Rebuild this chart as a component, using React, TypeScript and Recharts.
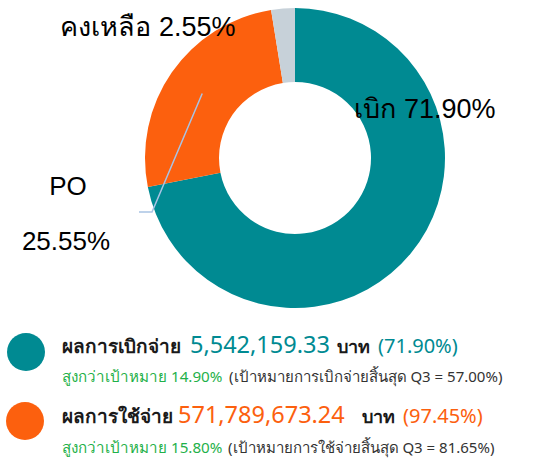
import { PieChart, Pie, Cell } from "recharts";

const sliceNames = ["เบิก", "PO", "คงเหลือ"];
const sliceValues = [71.9, 25.55, 2.55];
const sliceColors = ["#008a92", "#fc600e", "#c7d1d9"];

const legendTitles = ["ผลการเบิกจ่าย", "ผลการใช้จ่าย"];
const legendAmounts = ["5,542,159.33", "571,789,673.24"];
const legendPercents = ["71.90%", "97.45%"];
const legendColors = ["#008a92", "#fc600e"];
const overTarget = ["14.90%", "15.80%"];
const targetNotes = [
  "(เป้าหมายการเบิกจ่ายสิ้นสุด Q3 = 57.00%)",
  "(เป้าหมายการใช้จ่ายสิ้นสุด Q3 = 81.65%)",
];

const data = sliceNames.map((name, i) => ({ name, value: sliceValues[i] }));

// legend layout (x of each piece, baselines)
const legendRows = [
  { cy: 352, cx: 26, base: 353, sub: 382, amountX: 190, unitX: 337, pctX: 378, noteX: 229 },
  { cy: 421, cx: 25, base: 423, sub: 453, amountX: 178, unitX: 362, pctX: 403, noteX: 228 },
];

const RAD = Math.PI / 180;
const labelFont = "'Liberation Sans', Arial, sans-serif";

const renderLabel = (props: any) => {
  const { cx, cy, midAngle, innerRadius, outerRadius, index, value, name } = props;
  const pct = `${Number(value).toFixed(2)}%`;
  if (index === 0) {
    return (
      <text x={cx + 130} y={cy - 40} textAnchor="middle" fontSize={27} fontFamily={labelFont} fill="#000">
        {`${name} ${pct}`}
      </text>
    );
  }
  if (index === 1) {
    const r = (innerRadius + outerRadius) / 2;
    const sx = cx + r * Math.cos(-midAngle * RAD);
    const sy = cy + r * Math.sin(-midAngle * RAD);
    const ex = cx - 143;
    const ey = cy + 54;
    return (
      <g>
        <polyline
          points={`${sx},${sy} ${ex},${ey} ${ex - 13},${ey}`}
          fill="none"
          stroke="#a9c3e4"
          strokeWidth={1.5}
        />
        <text x={cx - 227} y={cy + 37} textAnchor="middle" fontSize={26} fontFamily={labelFont} fill="#000">
          {name}
        </text>
        <text x={cx - 229} y={cy + 92} textAnchor="middle" fontSize={26} fontFamily={labelFont} fill="#000">
          {pct}
        </text>
      </g>
    );
  }
  return (
    <text x={cx - 147} y={cy - 122} textAnchor="middle" fontSize={27} fontFamily={labelFont} fill="#000">
      {`${name} ${pct}`}
    </text>
  );
};

const legendFont = "'Noto Sans', Tahoma, 'DejaVu Sans', sans-serif";

export default function App() {
  return (
    <div style={{ position: "absolute", left: 0, top: 0, width: 538, height: 462, background: "#fff" }}>
      <PieChart width={538} height={320} margin={{ top: 0, right: 0, bottom: 0, left: 0 }}>
        <Pie
          data={data}
          dataKey="value"
          nameKey="name"
          cx={295}
          cy={158}
          innerRadius={76}
          outerRadius={150}
          startAngle={90}
          endAngle={-270}
          stroke="none"
          label={renderLabel}
          labelLine={false}
          isAnimationActive={false}
        >
          {data.map((entry, index) => (
            <Cell key={`cell-${index}`} fill={sliceColors[index]} />
          ))}
        </Pie>
      </PieChart>
      <svg width={538} height={462} style={{ position: "absolute", left: 0, top: 0 }} fontFamily={legendFont}>
        {legendRows.map((row, i) => (
          <g key={legendTitles[i]}>
            <circle cx={row.cx} cy={row.cy} r={19} fill={legendColors[i]} />
            <text x={62} y={row.base} fontSize={19} fontWeight="bold" fill="#1a1a1a">
              {legendTitles[i]}
            </text>
            <text x={row.amountX} y={row.base} fontSize={23.5} fill={legendColors[i]}>
              {legendAmounts[i]}
            </text>
            <text x={row.unitX} y={row.base} fontSize={18} fontWeight="bold" fill="#1a1a1a">
              บาท
            </text>
            <text x={row.pctX} y={row.base} fontSize={20} fill={legendColors[i]}>
              ({legendPercents[i]})
            </text>
            <text x={62} y={row.sub} fontSize={15.2} fill="#1fb14a">
              {`สูงกว่าเป้าหมาย ${overTarget[i]}`}
            </text>
            <text x={row.noteX} y={row.sub} fontSize={15} fill="#333">
              {targetNotes[i]}
            </text>
          </g>
        ))}
      </svg>
    </div>
  );
}
